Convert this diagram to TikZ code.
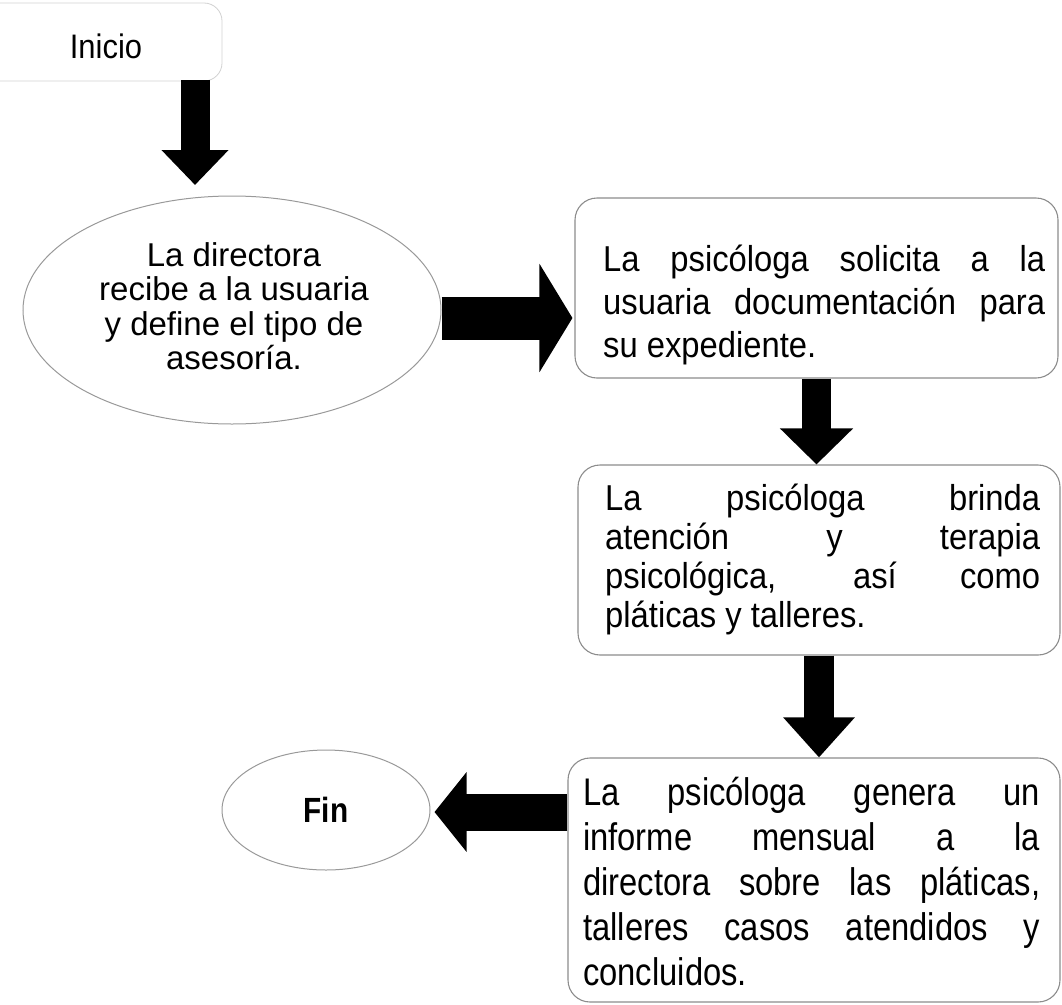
\documentclass[tikz,border=0pt]{standalone}
\usepackage{fontspec}
\setmainfont{Liberation Sans}
\newfontfamily\tallfont[FakeStretch=0.91]{Liberation Sans}
\newfontfamily\tallerfont[FakeStretch=0.85]{Liberation Sans}
\usetikzlibrary{shapes.geometric,arrows.meta,calc}
\tikzset{
  bx/.style={draw=black!45, line width=1.1pt, rounded corners=22pt},
  ell/.style={ellipse, draw=black!40, line width=1pt, inner sep=0pt},
  fatarrow/.style n args={3}{draw=black, line width=#1, -{Triangle[length=#2, width=#3]}},
  txt/.style={inner sep=0pt, align=left, anchor=west},
}
\newcommand{\jl}[2]{\makebox[#1][s]{#2}}
\begin{document}
\begin{tikzpicture}[x=1pt,y=-1pt]
\useasboundingbox (0,0) rectangle (1062,1004);
% Inicio
\node[draw=black!18, line width=0.8pt, rounded corners=18pt, minimum width=250pt, minimum height=78pt, inner sep=0pt] (inicio) at (97,42) {};
\node[inner sep=0pt, font=\tallfont\fontsize{34}{36}\selectfont] (iniciot) at (106,46) {Inicio};
% Ellipse 1
\node[ell, minimum width=418pt, minimum height=228pt, inner sep=0pt] (e1) at (232,310) {};
\node[inner sep=0pt, align=center, font=\fontsize{33}{34.5}\selectfont] (e1t) at (234,306)
  {La directora\\recibe a la usuaria\\y define el tipo de\\asesoría.};
% Box 1
\node[bx, minimum width=483pt, minimum height=180pt] (b1) at (816.5,288) {};
\node[txt, font=\tallfont\fontsize{36}{43}\selectfont] (t1) at (603,305)
  {\jl{442pt}{La psicóloga solicita a la}\\
   \jl{442pt}{usuaria documentación para}\\
   su expediente.};
% Box 2
\node[bx, minimum width=482pt, minimum height=190pt] (b2) at (819,560) {};
\node[txt, font=\tallfont\fontsize{36}{39}\selectfont] (t2) at (605,559)
  {\jl{435pt}{La psicóloga brinda}\\
   \jl{435pt}{atención y terapia}\\
   \jl{435pt}{psicológica, así como}\\
   pláticas y talleres.};
% Box 3
\node[bx, minimum width=492pt, minimum height=244pt] (b3) at (814,880) {};
\node[txt, font=\tallerfont\fontsize{38.5}{45}\selectfont] (t3) at (583,881)
  {\jl{457pt}{La psicóloga genera un}\\
   \jl{457pt}{informe mensual a la}\\
   \jl{457pt}{directora sobre las pláticas,}\\
   \jl{457pt}{talleres casos atendidos y}\\
   concluidos.};
% Fin
\node[ell, minimum width=208pt, minimum height=120pt, font=\tallerfont\fontsize{35}{36}\selectfont\bfseries] (fin) at (326,810) {Fin};
% Arrows
\coordinate (a1s) at (195,80);
\coordinate (a1e) at (195,185);
\draw[fatarrow={29pt}{35pt}{65pt}] (a1s) -- (a1e);
\draw[fatarrow={43pt}{33pt}{107pt}] ($(e1.east)+(0,8)$) -- ($(b1.west |- e1.east)+(-2,8)$);
\draw[fatarrow={29pt}{36pt}{71pt}] (b1.south) -- (b1.south |- b2.north);
\draw[fatarrow={30pt}{40pt}{69pt}] (b2.south) -- (b2.south |- b3.north);
\draw[fatarrow={37pt}{32pt}{78pt}] ($(fin.east -| b3.west)+(0,2)$) -- ($(fin.east)+(4,2)$);
\end{tikzpicture}
\end{document}
